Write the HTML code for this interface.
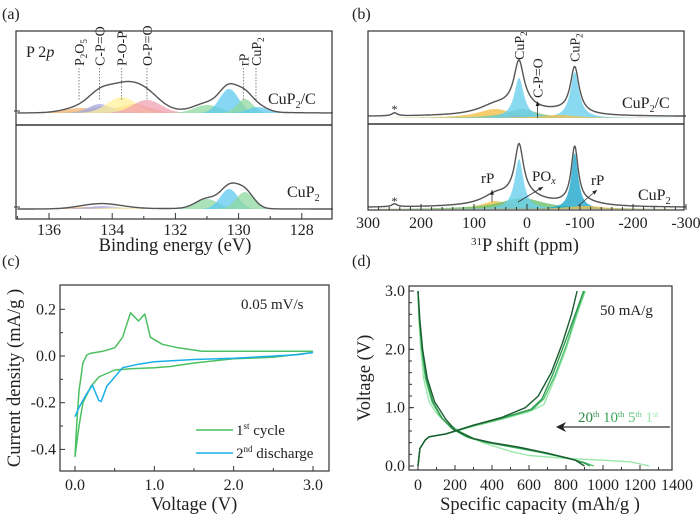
<!DOCTYPE html>
<html><head><meta charset="utf-8">
<style>
body{margin:0;background:#fff;}
svg{display:block;font-family:"Liberation Serif",serif;}
text{fill:#222;}
</style></head>
<body>
<svg id="fig" width="700" height="518" viewBox="0 0 700 518">
  <g id="pa"></g>
  <g id="pb"></g>
  <g id="pc"></g>
  <g id="pd"></g>
</svg>
<script>
// ---------- data ----------
const xpsTopPeaks = [[135.0,5,0.5,'#f2b26a'],[133.3,9,0.5,'#f2b26a'],[134.3,7,0.45,'#b4b48c'],[134.4,9,0.35,'#a9a9e6'],[133.7,16,0.45,'#fff09a'],[132.9,13,0.45,'#f2a2b2'],[131.0,8,0.4,'#8fd8a0'],[130.3,24,0.3,'#5ccaf0'],[129.8,14,0.25,'#8fd8a0'],[129.4,6,0.3,'#5ccaf0']];
const xpsBotPeaks = [[134.8,2,0.5,'#f2b26a'],[134.3,3,0.5,'#a9a9e6'],[133.8,1.5,0.5,'#fff09a'],[131.0,10,0.35,'#8fd8a0'],[130.3,20,0.28,'#5ccaf0'],[129.8,17,0.28,'#8fd8a0']];
const xpsTicks = [136,134,132,130,128];
const xpsLabels = [['P','2','O','5',135.05],['C-P=O','','','',134.4],['P-O-P','','','',133.7],['O-P=O','','','',132.9],['rP','','','',129.85],['CuP','2','','',129.45]];
const nmrTopPeaks = [[250,3,6,'none'],[60,9,40,'#f2c04a'],[10,9,35,'#7cc88a'],[20,3,12,'#f07070'],[15,40,11,'#6cd0ee'],[-90,46,10,'#6cd0ee'],[-60,3,40,'#f2c04a']];
const nmrBotPeaks = [[250,3,6,'none'],[60,8,30,'#f2c04a'],[10,11,50,'#6cc070'],[15,50,10,'#6cd0ee'],[-90,56,8,'#1ea8cc'],[-110,3,40,'#f2c04a']];
const nmrTicks = [300,200,100,0,-100,-200,-300];
const nmrTickLabels = ['300','200','100','0','-100','-200','-300'];
const cvFirstV = [3.0,2.5,2.0,1.5,1.2,1.0,0.7,0.5,0.3,0.2,0.1,0.05,0.0,0.02,0.05,0.1,0.15,0.2,0.35,0.5,0.6,0.7,0.8,0.88,0.95,1.1,1.3,1.6,2.0,3.0];
const cvFirstI = [0.015,-0.005,-0.012,-0.03,-0.045,-0.05,-0.055,-0.06,-0.09,-0.13,-0.2,-0.3,-0.43,-0.3,-0.15,-0.03,0.005,0.012,0.02,0.035,0.08,0.185,0.15,0.18,0.08,0.05,0.035,0.02,0.02,0.02];
const cvSecondV = [3.0,2.8,2.0,1.5,1.0,0.8,0.6,0.5,0.4,0.33,0.3,0.25,0.22,0.15,0.05,0.0];
const cvSecondI = [0.015,0.005,-0.01,-0.015,-0.025,-0.035,-0.05,-0.09,-0.13,-0.195,-0.19,-0.15,-0.125,-0.16,-0.22,-0.26];
const cvXTicks = [0,1,2,3];
const cvYTicks = [0.2,0,-0.2,-0.4];
const cycles = ['1st','5th','10th','20th'];
const cycleColors = ['#9ae8aa','#55c474','#2f9a50','#1b5c30'];
const disCap = [
 [0,5,15,30,60,100,150,250,350,500,600,800,1000,1150,1250],
 [0,7,20,40,75,120,180,260,360,500,650,800,900,950],
 [0,8,22,45,80,130,190,280,380,530,680,820,900,930],
 [0,10,25,50,90,150,200,300,400,550,700,850,900]];
const disV = [
 [3.0,2.5,2.0,1.5,1.1,0.9,0.75,0.55,0.4,0.25,0.18,0.13,0.1,0.07,0.0],
 [3.0,2.5,2.0,1.5,1.1,0.85,0.65,0.5,0.41,0.33,0.24,0.14,0.06,0.0],
 [3.0,2.5,2.0,1.5,1.1,0.82,0.63,0.48,0.4,0.32,0.23,0.13,0.05,0.0],
 [3.0,2.5,2.0,1.5,1.1,0.8,0.62,0.47,0.4,0.32,0.22,0.1,0.0]];
const chgCap = [
 [0,10,40,60,150,300,450,600,680,740,800,860,905],
 [0,10,40,60,150,300,450,620,680,740,800,855,900],
 [0,10,40,60,150,300,450,610,670,730,790,850,895],
 [0,10,40,60,150,300,450,580,650,720,780,830,860]];
const chgV = [
 [0,0.3,0.45,0.5,0.55,0.68,0.8,0.93,1.05,1.5,2.0,2.6,3.0],
 [0,0.3,0.45,0.5,0.55,0.69,0.81,0.97,1.15,1.55,2.05,2.6,3.0],
 [0,0.3,0.45,0.5,0.55,0.7,0.82,0.97,1.15,1.58,2.08,2.6,3.0],
 [0,0.3,0.45,0.5,0.55,0.7,0.83,1.0,1.2,1.6,2.1,2.6,3.0]];
const dXTicks = [0,200,400,600,800,1000,1200,1400];
const dYTicks = [0,1,2,3];

const TICKFS=16, TITLEFS=18.5;
const NS='http://www.w3.org/2000/svg';
function mk(parent,tag,attrs,txt){const e=document.createElementNS(NS,tag);for(const k in attrs)e.setAttribute(k,attrs[k]);if(txt!==undefined)e.textContent=txt;parent.appendChild(e);return e;}
function poly(pts){return pts.map((p,i)=>(i?'L':'M')+p[0].toFixed(1)+' '+p[1].toFixed(1)).join('');}

// ---------- panel a ----------
(function(){
 const g=document.getElementById('pa');
 const L=16,R=332,T=31,B=219,MID=125;
 const x=e=>49+(136-e)*31.6;
 const t=mk(g,'text',{x:2,y:19,'font-size':16},'(a)');
 
 
 function spectrum(peaks,base,name,extra){
  const xs=[];for(let e=137;e>=127;e-=0.02)xs.push(e);
  const sub=mk(g,'g',{});
  
  
  peaks.forEach(p=>{
   const pts=xs.map(e=>[x(e),base-p[1]*Math.exp(-((e-p[0])**2)/(2*p[2]*p[2]))]);
   const pa=mk(sub,'path',{d:poly(pts)+'Z',fill:p[3],'fill-opacity':0.75,stroke:'none'});
   
   
  });
  const env=xs.map(e=>{let s=0;peaks.forEach(p=>s+=p[1]*Math.exp(-((e-p[0])**2)/(2*p[2]*p[2])));return [x(e),base-s-extra*Math.exp(-((e-132)**2)/8)];});
  const ep=mk(sub,'path',{d:poly(env),fill:'none',stroke:'#555','stroke-width':1.4});
  
  
 }
 spectrum(xpsTopPeaks,113,'cup2-c-spectrum',2);
 spectrum(xpsBotPeaks,209,'cup2-spectrum',0.5);
 xpsLabels.forEach(l=>{
  const xx=x(l[4]);
  const d=mk(g,'line',{x1:xx,y1:68,x2:xx,y2:101,stroke:'#666','stroke-dasharray':'1.5,1.5','stroke-width':0.8});
  
  
  const tx=mk(g,'text',{x:0,y:0,'font-size':14,transform:`translate(${xx+5},66) rotate(-90)`});
  
  
  tx.appendChild(document.createTextNode(l[0]));
  if(l[1]){mk(tx,'tspan',{'font-size':9,dy:3},l[1]);}
  if(l[2]){mk(tx,'tspan',{dy:-3},l[2]);mk(tx,'tspan',{'font-size':9,dy:3},l[3]);}
 });
 const fr=mk(g,'rect',{x:L,y:T,width:R-L,height:B-T,fill:'none',stroke:'#333','stroke-width':1.2});
 
 
 const dv=mk(g,'line',{x1:L,y1:MID,x2:R,y2:MID,stroke:'#333','stroke-width':1.4});
 
 
 [113,209].forEach(b=>{mk(g,'line',{x1:L-2,y1:b-2,x2:L+4,y2:b-2,stroke:'#333'});});
 const p2=mk(g,'text',{x:26,y:57,'font-size':16});
 
 
 p2.innerHTML='P 2<tspan font-style="italic">p</tspan>';
 const l1=mk(g,'text',{x:268,y:104,'font-size':16});
 
 
 l1.innerHTML='CuP<tspan font-size="10" dy="4">2</tspan><tspan dy="-4">/C</tspan>';
 const l2=mk(g,'text',{x:287,y:197,'font-size':16});
 
 
 l2.innerHTML='CuP<tspan font-size="10" dy="4">2</tspan>';
 for(let e=137;e>=127;e-=1){const xx=x(e);if(xx<L||xx>R)continue;const big=xpsTicks.includes(e);mk(g,'line',{x1:xx,y1:B,x2:xx,y2:B-(big?6:3),stroke:'#333'});}
 xpsTicks.forEach(v=>{const tt=mk(g,'text',{x:x(v),y:235,'font-size':TICKFS,'text-anchor':'middle'},String(v));
  
  });
 const xt=mk(g,'text',{x:175,y:251,'font-size':TITLEFS,'text-anchor':'middle'},'Binding energy (eV)');
 
 
})();

// ---------- panel b ----------
(function(){
 const g=document.getElementById('pb');
 const L=368,R=684,T=31,B=210,MID=124;
 const x=p=>421+(200-p)*0.53;
 const t=mk(g,'text',{x:352,y:19,'font-size':16},'(b)');
 
 
 function spectrum(peaks,base,name){
  const xs=[];for(let p=300;p>=-300;p-=0.5)xs.push(p);
  const sub=mk(g,'g',{});
  
  
  const lor=(p,k)=>k[1]/(1+((p-k[0])/k[2])**2);
  peaks.forEach(k=>{if(k[3]==='none')return;
   const pts=xs.map(p=>[x(p),base-lor(p,k)]);
   const pa=mk(sub,'path',{d:poly(pts)+'Z',fill:k[3],'fill-opacity':0.8});
   
   });
  const env=xs.map(p=>{let s=0;peaks.forEach(k=>s+=lor(p,k));return [x(p),base-s-1.5];});
  const ep=mk(sub,'path',{d:poly(env),fill:'none',stroke:'#555','stroke-width':1.4});
  
  
 }
 spectrum(nmrTopPeaks,118,'cup2-c-nmr');
 spectrum(nmrBotPeaks,209,'cup2-nmr');
 const fr=mk(g,'rect',{x:L,y:T,width:R-L,height:B-T,fill:'none',stroke:'#333','stroke-width':1.2});
 
 
 const dv=mk(g,'line',{x1:L,y1:MID,x2:R,y2:MID,stroke:'#333','stroke-width':1.4});
 
 
 for(let p=300;p>=-300;p-=20){const big=p%100===0;mk(g,'line',{x1:x(p),y1:B,x2:x(p),y2:B-(big?6:3),stroke:'#333'});}
 nmrTicks.forEach((v,i)=>{const tt=mk(g,'text',{x:x(v),y:228,'font-size':TICKFS,'text-anchor':'middle'},nmrTickLabels[i]);
  
  });
 const xt=mk(g,'text',{x:525,y:251,'font-size':TITLEFS,'text-anchor':'middle'});
 
 
 xt.innerHTML='<tspan font-size="11" dy="-6">31</tspan><tspan dy="6">P shift (ppm)</tspan>';
 function vlab(px,py,txt,sub){const tx=mk(g,'text',{x:0,y:0,'font-size':14,transform:`translate(${px},${py}) rotate(-90)`});
  
  
  tx.innerHTML=txt+(sub?'<tspan font-size="9" dy="3">'+sub+'</tspan>':'');}
 vlab(x(15)+5,60,'CuP','2');vlab(x(-90)+5,62,'CuP','2');vlab(x(-20)+5,98,'C-P=O','');
 mk(g,'line',{x1:x(-20),y1:118,x2:x(-20),y2:104,stroke:'#333','stroke-width':0.8});
 mk(g,'path',{d:`M${x(-20)-2} 106 L${x(-20)} 101 L${x(-20)+2} 106Z`,fill:'#222'});
 const s1=mk(g,'text',{x:x(250),y:113,'font-size':12,'text-anchor':'middle'},'*');
 
 
 const s2=mk(g,'text',{x:x(250),y:205,'font-size':12,'text-anchor':'middle'},'*');
 
 
 const l1=mk(g,'text',{x:622,y:108,'font-size':16});
 
 
 l1.innerHTML='CuP<tspan font-size="10" dy="4">2</tspan><tspan dy="-4">/C</tspan>';
 const l2=mk(g,'text',{x:638,y:200,'font-size':16});
 
 
 l2.innerHTML='CuP<tspan font-size="10" dy="4">2</tspan>';
 function arr(x1,y1,x2,y2){mk(g,'line',{x1,y1,x2,y2,stroke:'#333','stroke-width':0.8});
  const a=Math.atan2(y2-y1,x2-x1);const h=5;
  mk(g,'path',{d:`M${x2} ${y2} L${x2-h*Math.cos(a-0.4)} ${y2-h*Math.sin(a-0.4)} L${x2-h*Math.cos(a+0.4)} ${y2-h*Math.sin(a+0.4)}Z`,fill:'#222'});}
 arr(492,202,492,190);arr(518,202,543,187);arr(578,206,597,190);
 const r1=mk(g,'text',{x:481,y:183,'font-size':15},'rP');
 
 
 const r2=mk(g,'text',{x:591,y:185,'font-size':15},'rP');
 
 
 const po=mk(g,'text',{x:532,y:181,'font-size':15});
 
 
 po.innerHTML='PO<tspan font-size="10" font-style="italic" dy="3">x</tspan>';
})();

// ---------- panel c ----------
(function(){
 const g=document.getElementById('pc');
 const L=60,R=329,T=285,B=471;
 const x=v=>75+v*(313-75)/3;
 const y=i=>356-i*(46.7/0.2);
 const t=mk(g,'text',{x:2,y:266,'font-size':16},'(c)');
 
 
 const fr=mk(g,'rect',{x:L,y:T,width:R-L,height:B-T,fill:'none',stroke:'#333','stroke-width':1.2});
 
 
 cvXTicks.forEach(v=>{mk(g,'line',{x1:x(v),y1:B,x2:x(v),y2:B-5,stroke:'#333'});
  const tt=mk(g,'text',{x:x(v),y:490,'font-size':TICKFS,'text-anchor':'middle'},v.toFixed(1));
  
  });
 for(let v=0.5;v<3;v+=1)mk(g,'line',{x1:x(v),y1:B,x2:x(v),y2:B-3,stroke:'#333'});
 cvYTicks.forEach(v=>{mk(g,'line',{x1:L,y1:y(v),x2:L+5,y2:y(v),stroke:'#333'});
  const tt=mk(g,'text',{x:L-4,y:y(v)+5,'font-size':TICKFS,'text-anchor':'end'},v.toFixed(1));
  
  });
 for(let v=0.1;v>-0.5;v-=0.2)mk(g,'line',{x1:L,y1:y(v),x2:L+3,y2:y(v),stroke:'#333'});
 const c1=mk(g,'path',{d:poly(cvFirstV.map((v,i)=>[x(v),y(cvFirstI[i])])),fill:'none',stroke:'#4cc060','stroke-width':1.5,'stroke-linejoin':'round'});
 
 
 const c2=mk(g,'path',{d:poly(cvSecondV.map((v,i)=>[x(v),y(cvSecondI[i])])),fill:'none',stroke:'#1aaee8','stroke-width':1.5,'stroke-linejoin':'round'});
 
 
 const sr=mk(g,'text',{x:241,y:309,'font-size':15},'0.05 mV/s');
 
 
 const le1=mk(g,'g',{});
 
 
 mk(le1,'line',{x1:196,y1:430,x2:233,y2:430,stroke:'#4cc060','stroke-width':1.5});
 mk(le1,'text',{x:236,y:435,'font-size':15}).innerHTML='1<tspan font-size="9" dy="-6">st</tspan><tspan dy="6"> cycle</tspan>';
 const le2=mk(g,'g',{});
 
 
 mk(le2,'line',{x1:196,y1:453,x2:233,y2:453,stroke:'#1aaee8','stroke-width':1.5});
 mk(le2,'text',{x:236,y:458,'font-size':15}).innerHTML='2<tspan font-size="9" dy="-6">nd</tspan><tspan dy="6"> discharge</tspan>';
 const xt=mk(g,'text',{x:194,y:510,'font-size':TITLEFS,'text-anchor':'middle'},'Voltage (V)');
 
 
 const yt=mk(g,'text',{x:0,y:0,'font-size':TITLEFS,'text-anchor':'middle',transform:'translate(20,378) rotate(-90)'},'Current density (mA/g )');
 
 
})();

// ---------- panel d ----------
(function(){
 const g=document.getElementById('pd');
 const L=409,R=672,T=286,B=470;
 const x=c=>418+c*(640-418)/1200;
 const y=v=>466-v*(466-291)/3;
 const t=mk(g,'text',{x:352,y:266,'font-size':16},'(d)');
 
 
 const fr=mk(g,'rect',{x:L,y:T,width:R-L,height:B-T,fill:'none',stroke:'#333','stroke-width':1.2});
 
 
 dXTicks.forEach(v=>{if(x(v)<=R)mk(g,'line',{x1:x(v),y1:B,x2:x(v),y2:B-5,stroke:'#333'});
  if(x(v-100)>L&&x(v-100)<R)mk(g,'line',{x1:x(v-100),y1:B,x2:x(v-100),y2:B-3,stroke:'#333'});
  const tt=mk(g,'text',{x:x(v),y:490,'font-size':TICKFS,'text-anchor':'middle'},String(v));
  
  });
 dYTicks.forEach(v=>{mk(g,'line',{x1:L,y1:y(v),x2:L+5,y2:y(v),stroke:'#333'});
  const tt=mk(g,'text',{x:L-4,y:y(v)+5,'font-size':TICKFS,'text-anchor':'end'},v.toFixed(1));
  
  });
 for(let v=0.2;v<3;v+=0.2)mk(g,'line',{x1:L,y1:y(v),x2:L+3,y2:y(v),stroke:'#333'});
 cycles.forEach((c,k)=>{
  const d=mk(g,'path',{d:poly(disCap[k].map((q,i)=>[x(q),y(disV[k][i])])),fill:'none',stroke:cycleColors[k],'stroke-width':1.4,'stroke-linejoin':'round'});
  
  
  const ch=mk(g,'path',{d:poly(chgCap[k].map((q,i)=>[x(q),y(chgV[k][i])])),fill:'none',stroke:cycleColors[k],'stroke-width':1.4,'stroke-linejoin':'round'});
  
  
 });
 const cr=mk(g,'text',{x:600,y:315,'font-size':15},'50 mA/g');
 
 
 const ar=mk(g,'g',{});
 
 
 mk(ar,'line',{x1:670,y1:427,x2:562,y2:427,stroke:'#333','stroke-width':1.2});
 mk(ar,'path',{d:'M556 427 L566 422 L563 427 L566 432Z',fill:'#222'});
 const cl=mk(g,'text',{x:578,y:422,'font-size':15});
 
 
 cl.innerHTML='<tspan fill="#2f8a48">20</tspan><tspan fill="#2f8a48" font-size="8" dy="-5">th</tspan><tspan fill="#3aa558" dy="5"> 10</tspan><tspan fill="#3aa558" font-size="8" dy="-5">th</tspan><tspan fill="#62c87c" dy="5"> 5</tspan><tspan fill="#62c87c" font-size="8" dy="-5">th</tspan><tspan fill="#9ae8aa" dy="5"> 1</tspan><tspan fill="#9ae8aa" font-size="8" dy="-5">st</tspan>';
 const xt=mk(g,'text',{x:540,y:510,'font-size':TITLEFS,'text-anchor':'middle'},'Specific capacity (mAh/g  )');
 
 
 const yt=mk(g,'text',{x:0,y:0,'font-size':TITLEFS,'text-anchor':'middle',transform:'translate(370,378) rotate(-90)'},'Voltage (V)');
 
 
})();
</script>
</body></html>
